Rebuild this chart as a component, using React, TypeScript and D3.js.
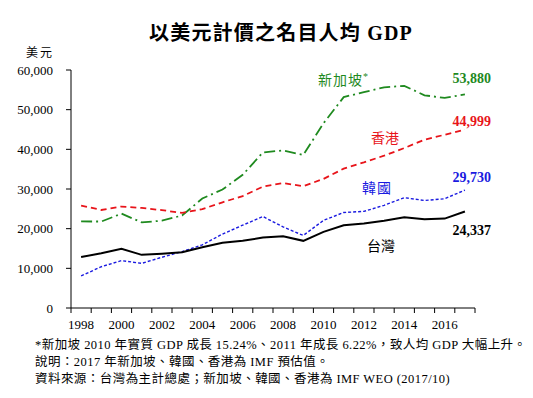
import React from 'react';
import * as d3 from 'd3';

const years = d3.range(1998, 2018);
const tickYears = [1998, 2000, 2002, 2004, 2006, 2008, 2010, 2012, 2014, 2016];
const yTicks = [0, 10000, 20000, 30000, 40000, 50000, 60000];

const singapore = [21829, 21796, 23793, 21577, 22017, 23320, 27608, 29870, 33580, 39224, 39722, 38578, 46570, 53167, 54431, 55618, 56007, 53630, 52961, 53880];
const hongKong = [25809, 24716, 25578, 25230, 24666, 23977, 24928, 26650, 28224, 30594, 31516, 30697, 32550, 35142, 36708, 38404, 40315, 42432, 43681, 44999];
const korea = [8085, 10409, 11948, 11253, 12789, 14219, 15922, 18640, 20888, 23061, 20430, 18291, 22087, 24080, 24359, 25890, 27811, 27105, 27539, 29730];
const taiwan = [12840, 13804, 14908, 13397, 13686, 14066, 15317, 16456, 16934, 17757, 18081, 16933, 19197, 20866, 21295, 21973, 22874, 22400, 22540, 24337];

const footnotes = [
  '*新加坡 2010 年實質 GDP 成長 15.24%、2011 年成長 6.22%，致人均 GDP 大幅上升。',
  '說明：2017 年新加坡、韓國、香港為 IMF 預估值。',
  '資料來源：台灣為主計總處；新加坡、韓國、香港為 IMF WEO (2017/10)'
];

const serif = '"Liberation Serif", "Times New Roman", "Noto Sans CJK TC", serif';

const App = () => {
  const x = d3.scaleBand<number>().domain(years).range([71, 475]);
  const y = d3.scaleLinear().domain([0, 60000]).range([308, 70]);
  const cx = (yr: number) => (x(yr) as number) + x.bandwidth() / 2;

  const line = d3
    .line<number>()
    .x((d, i) => cx(years[i]))
    .y((d) => y(d));

  const series = [
    { name: '新加坡', data: singapore, color: '#1f8a1f', dash: '11,4,2,4', width: 1.8 },
    { name: '香港', data: hongKong, color: '#e8141a', dash: '6,4', width: 1.8 },
    { name: '韓國', data: korea, color: '#1a1ae0', dash: '3,2', width: 1.4 },
    { name: '台灣', data: taiwan, color: '#000000', dash: null, width: 2 }
  ];

  const last = (a: number[]) => d3.format(',')(a[a.length - 1]);

  return (
    <svg width={533} height={398} style={{ position: 'absolute', left: 0, top: 0, background: '#fff' }} fontFamily={serif}>
      <text x={281} y={40} textAnchor="middle" fontSize={20} fontWeight="bold" letterSpacing={1.2}>
        以美元計價之名目人均 GDP
      </text>
      <text x={40} y={57} textAnchor="middle" fontSize={12} letterSpacing={2}>美元</text>

      {/* y axis */}
      <line x1={71} x2={71} y1={y(60000)} y2={y(0)} stroke="#000" strokeWidth={1} />
      {yTicks.map((t) => (
        <g key={t}>
          <line x1={66} x2={71} y1={y(t)} y2={y(t)} stroke="#000" />
          <text x={53} y={y(t)} dy="0.35em" textAnchor="end" fontSize={13}>
            {d3.format(',')(t)}
          </text>
        </g>
      ))}

      {/* x axis */}
      <line x1={71} x2={475} y1={y(0)} y2={y(0)} stroke="#000" />
      {years.concat([2018]).map((yr) => {
        const px = yr === 2018 ? 475 : (x(yr) as number);
        return <line key={yr} x1={px} x2={px} y1={y(0)} y2={y(0) + 5} stroke="#000" />;
      })}
      {tickYears.map((yr) => (
        <text key={yr} x={cx(yr)} y={329} textAnchor="middle" fontSize={13}>
          {yr}
        </text>
      ))}

      {series.map((s) => (
        <path
          key={s.name}
          d={line(s.data) as string}
          fill="none"
          stroke={s.color}
          strokeWidth={s.width}
          strokeDasharray={s.dash || undefined}
        />
      ))}

      {/* labels */}
      <text x={318} y={85} fontSize={14} fill="#1f8a1f" letterSpacing={1}>
        新加坡<tspan fontSize={10} dy={-5}>*</tspan>
      </text>
      <text x={491} y={83} textAnchor="end" fontSize={14} fontWeight="bold" fill="#1f8a1f">{last(singapore)}</text>
      <text x={371} y={143} fontSize={14} fill="#e8141a">香港</text>
      <text x={491} y={126} textAnchor="end" fontSize={14} fontWeight="bold" fill="#e8141a">{last(hongKong)}</text>
      <text x={362} y={193} fontSize={14} fill="#1a1ae0" letterSpacing={1}>韓國</text>
      <text x={491} y={182} textAnchor="end" fontSize={14} fontWeight="bold" fill="#1a1ae0">{last(korea)}</text>
      <text x={491} y={235} textAnchor="end" fontSize={14} fontWeight="bold" fill="#000">{last(taiwan)}</text>
      <text x={367} y={251} fontSize={14} fill="#000">台灣</text>

      {footnotes.map((f, i) => (
        <text key={i} x={35} y={349 + i * 17} fontSize={12.5} letterSpacing={0.45}>
          {f}
        </text>
      ))}
    </svg>
  );
};

export default App;
